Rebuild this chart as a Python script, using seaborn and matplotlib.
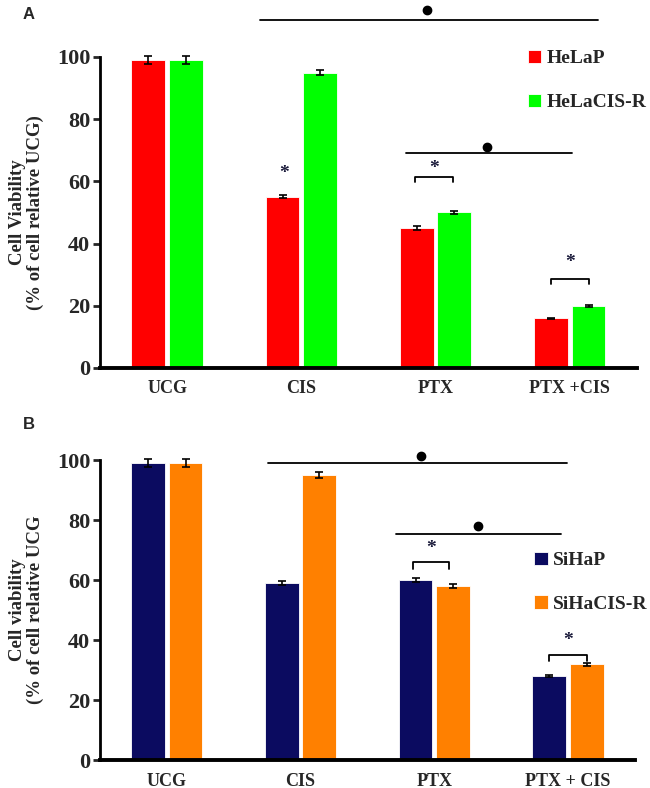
"""Cell viability bars for parental vs cisplatin-resistant lines (panels A and B)."""

import matplotlib.pyplot as plt
import numpy as np
import pandas as pd
import seaborn as sns

sns.set_theme(style="white")
plt.rcParams.update({
    "font.family": ["Liberation Serif", "DejaVu Serif"],
    "font.weight": "bold",
    "axes.labelweight": "bold",
})

TREATMENTS = ["UCG", "CIS", "PTX", "PTX +CIS"]
TREATMENTS_B = ["UCG", "CIS", "PTX", "PTX + CIS"]

HELA_LINES = ["HeLaP", "HeLaCIS-R"]
HELA_P = [99, 55, 45, 16]
HELA_R = [99, 95, 50, 20]
HELA_P_ERR = [1.2, 0.5, 0.6, 0.2]
HELA_R_ERR = [1.2, 0.8, 0.6, 0.3]

SIHA_LINES = ["SiHaP", "SiHaCIS-R"]
SIHA_P = [99, 59, 60, 28]
SIHA_R = [99, 95, 58, 32]
SIHA_P_ERR = [1.2, 0.6, 0.6, 0.4]
SIHA_R_ERR = [1.2, 0.9, 0.6, 0.5]


def make_frame(cats, lines, first, second):
    rows = []
    for line, vals in zip(lines, [first, second]):
        for c, v in zip(cats, vals):
            rows.append({"treatment": c, "line": line, "viability": v})
    return pd.DataFrame(rows)


def bracket(ax, x0, x1, y, drop, star_y):
    ax.plot([x0, x0, x1, x1], [y - drop, y, y, y - drop], color="black", lw=1.3, clip_on=False)
    ax.text((x0 + x1) / 2, star_y, "*", ha="center", va="center", fontsize=14, color="#1a1a3a")


def sig_line(ax, x0, x1, y, dot_x, dot_y):
    ax.plot([x0, x1], [y, y], color="black", lw=1.3, clip_on=False)
    ax.plot([dot_x], [dot_y], "o", color="black", ms=6, clip_on=False)


def draw_panel(ax, cats, lines, first, second, errs, colors, ylabel, legend_anchor):
    df = make_frame(cats, lines, first, second)
    sns.barplot(
        data=df, x="treatment", y="viability", hue="line", order=cats, hue_order=lines,
        palette=dict(zip(lines, colors)), saturation=1, width=0.56, gap=0.1, errorbar=None,
        edgecolor="white", linewidth=0.6, ax=ax,
    )
    for container, err in zip(ax.containers, errs):
        xs = [p.get_x() + p.get_width() / 2 for p in container.patches]
        hs = [p.get_height() for p in container.patches]
        ax.errorbar(xs, hs, yerr=err, fmt="none", ecolor="black", elinewidth=1.2,
                    capsize=3, capthick=1.2, clip_on=False)

    ax.set_xlim(-0.5, 3.5)
    ax.set_ylim(0, 100)
    ax.set_yticks(np.arange(0, 101, 20))
    ax.set_xlabel("")
    ax.set_ylabel(ylabel, fontsize=13.5, labelpad=9, linespacing=1.1)
    sns.despine(ax=ax)
    ax.spines["left"].set_linewidth(2)
    ax.spines["bottom"].set_linewidth(2.8)
    ax.spines["left"].set_color("black")
    ax.spines["bottom"].set_color("black")
    ax.tick_params(axis="y", direction="out", length=5, width=2, labelsize=16, pad=2, left=True)
    ax.tick_params(axis="x", length=0, labelsize=13, pad=9)

    handles, labels = ax.get_legend_handles_labels()
    ax.legend(handles, labels, loc="upper left", bbox_to_anchor=legend_anchor,
              bbox_transform=ax.figure.transFigure, frameon=False, fontsize=14,
              handlelength=0.7, handleheight=0.7, handletextpad=0.25,
              labelspacing=1.35, borderpad=0, borderaxespad=0)


fig = plt.figure(figsize=(6.5, 7.88), dpi=100)
ax_a = fig.add_axes([0.1538, 0.533, 0.826, 0.3947])
ax_b = fig.add_axes([0.1538, 0.0355, 0.823, 0.3807])

draw_panel(ax_a, TREATMENTS, HELA_LINES, HELA_P, HELA_R, [HELA_P_ERR, HELA_R_ERR],
           ["#ff0000", "#00ff00"], "Cell Viability\n(% of cell relative UCG)", (0.812, 0.937))
draw_panel(ax_b, TREATMENTS_B, SIHA_LINES, SIHA_P, SIHA_R, [SIHA_P_ERR, SIHA_R_ERR],
           ["#0b0b60", "#ff8000"], "Cell viability\n(% of cell relative UCG", (0.822, 0.300))

# panel A significance marks
sig_line(ax_a, 0.69, 3.21, 112, 1.94, 115)
sig_line(ax_a, 1.78, 3.02, 69, 2.38, 71)
bracket(ax_a, 1.85, 2.13, 61.4, 1.5, 64)
bracket(ax_a, 2.86, 3.14, 28.6, 1.6, 34)
ax_a.text(0.87, 62.5, "*", ha="center", va="center", fontsize=14, color="#1a1a3a")

# panel B significance marks
sig_line(ax_b, 0.756, 2.99, 99, 1.90, 101.5)
sig_line(ax_b, 1.71, 2.95, 75.3, 2.33, 78)
bracket(ax_b, 1.84, 2.11, 66, 2.2, 70.5)
bracket(ax_b, 2.86, 3.14, 35, 2.0, 40)

fig.text(0.035, 0.991, "A", fontsize=12, fontweight="bold", family="Liberation Sans", va="top")
fig.text(0.035, 0.471, "B", fontsize=12, fontweight="bold", family="Liberation Sans", va="top")

fig.savefig("out.png", dpi=100)
